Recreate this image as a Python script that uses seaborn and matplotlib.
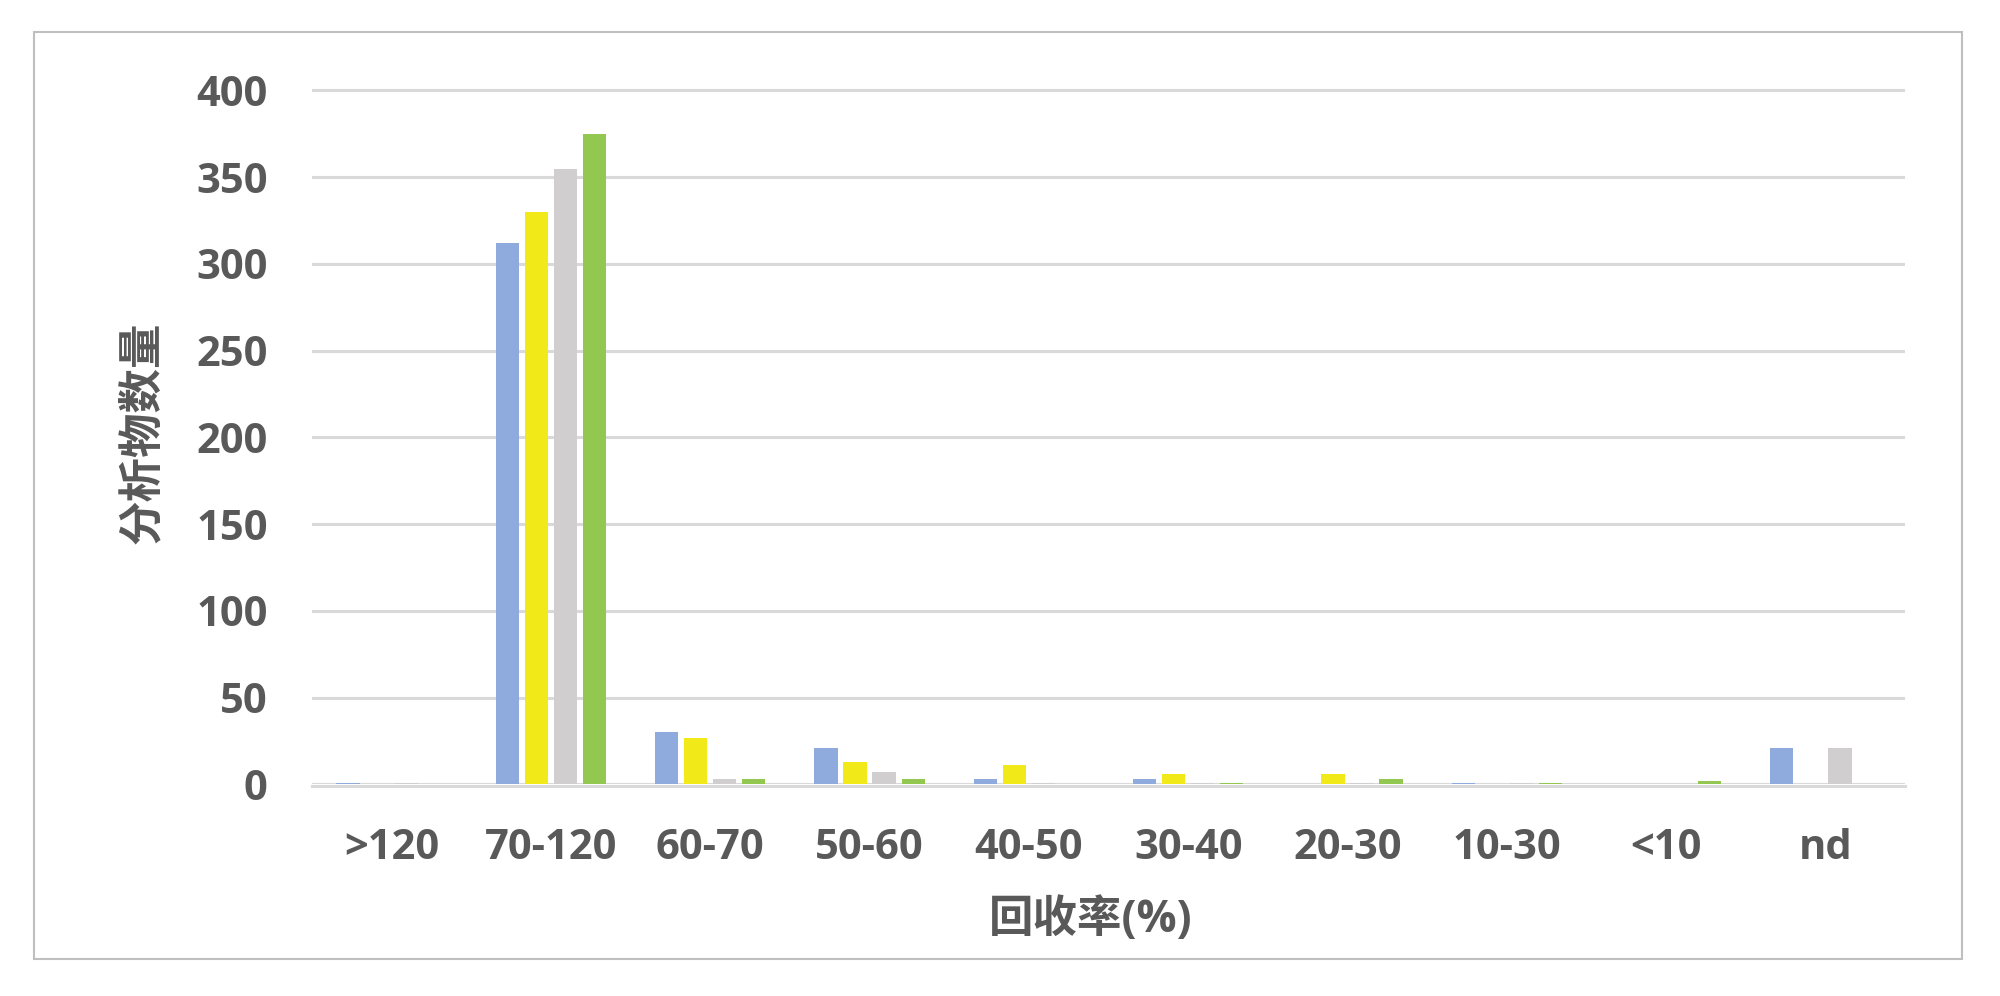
import numpy as np
import pandas as pd
import matplotlib
matplotlib.use('Agg')
import matplotlib.pyplot as plt
import seaborn as sns
from matplotlib.patches import Rectangle

# 回收率区间
categories = ['>120', '70-120', '60-70', '50-60', '40-50', '30-40', '20-30', '10-30', '<10', 'nd']
series_names = ['系列1', '系列2', '系列3', '系列4']
series1 = [1, 312, 30, 21, 3, 3, 0, 1, 0, 21]
series2 = [0, 330, 27, 13, 11, 6, 6, 0.5, 0.3, 0]
series3 = [1, 355, 3, 7, 1, 1, 1, 1, 0, 21]
series4 = [0, 375, 3, 3, 0, 1, 3, 1, 2, 0]
colors = ['#8faadc', '#f2e919', '#d0cece', '#92c84f']

df = pd.DataFrame({
    'cat': categories * 4,
    'series': np.repeat(series_names, len(categories)),
    'value': series1 + series2 + series3 + series4,
})
df['cat'] = pd.Categorical(df['cat'], categories=categories, ordered=True)

sns.set_theme(style='white')
plt.rcParams['font.family'] = ['Open Sans', 'Noto Sans CJK SC', 'DejaVu Sans']

fig = plt.figure(figsize=(20, 9.96), dpi=100)
ax = fig.add_axes([0.156, 0.2124, 0.7965, 0.7055])

sns.barplot(data=df, x='cat', y='value', hue='series', hue_order=series_names,
            palette=colors, width=0.73, gap=0.2, legend=False, ax=ax,
            saturation=1, linewidth=0, zorder=3)

ax.set_ylim(0, 405)
ax.set_yticks(range(0, 401, 50))
ax.yaxis.grid(True, color='#d9d9d9', linewidth=2.2, zorder=0)
ax.set_axisbelow(True)
for side in ['top', 'right', 'left']:
    ax.spines[side].set_visible(False)
ax.spines['bottom'].set_color('#d9d9d9')
ax.spines['bottom'].set_linewidth(2.2)
ax.spines['bottom'].set_position(('outward', 1.3))
ax.spines['bottom'].set_zorder(2)

txt = '#595959'
ax.tick_params(axis='both', length=0, labelsize=30, labelcolor=txt)
ax.tick_params(axis='x', pad=30)
ax.tick_params(axis='y', pad=32)
for lab in ax.get_xticklabels() + ax.get_yticklabels():
    lab.set_fontweight('bold')

ax.set_xlabel('回收率(%)', fontsize=32, fontweight='bold', color=txt)
ax.xaxis.set_label_coords(0.489, -0.162)
ax.set_ylabel('分析物数量', fontsize=32, fontweight='bold', color=txt, labelpad=22)

fig.patches.append(Rectangle((0.017, 0.037), 0.964, 0.931, transform=fig.transFigure,
                             fill=False, edgecolor='#bfbfbf', linewidth=1.5))

fig.savefig('out.png', dpi=100, facecolor='white')
